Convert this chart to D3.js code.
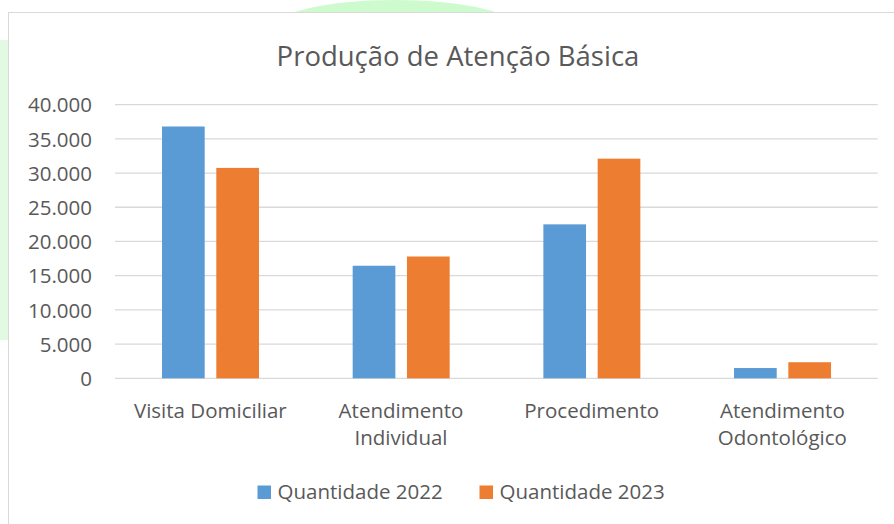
<!DOCTYPE html>
<html>
<head>
<meta charset="utf-8">
<script src="https://cdn.jsdelivr.net/npm/d3@7"></script>
<style>
  html, body { margin: 0; padding: 0; background: #fff; }
  svg { display: block; font-family: "Open Sans", sans-serif; }
</style>
</head>
<body>
<svg id="chart" width="894" height="524"></svg>
<script>
// data
const categories = ["Visita Domiciliar", "Atendimento Individual", "Procedimento", "Atendimento Odontológico"];
const seriesNames = ["Quantidade 2022", "Quantidade 2023"];
const values2022 = [36800, 16450, 22500, 1500];
const values2023 = [30750, 17800, 32100, 2350];
const yTicks = [0, 5000, 10000, 15000, 20000, 25000, 30000, 35000, 40000];
const colors = ["#5b9bd5", "#ed7d31"];

const svg = d3.select("#chart");
const textColor = "#595959";
const gridColor = "#d9d9d9";

// faint watermark bits showing around the chart frame
svg.append("rect").attr("x", 0).attr("y", 40).attr("width", 8).attr("height", 300)
  .attr("fill", "#d6f8d6").attr("opacity", 0.7);
svg.append("ellipse").attr("cx", 395).attr("cy", 30).attr("rx", 125).attr("ry", 30)
  .attr("fill", "#cdfbcd");

// chart frame
svg.append("rect").attr("x", 8.5).attr("y", 12.5).attr("width", 900).attr("height", 530)
  .attr("fill", "#fff").attr("stroke", gridColor).attr("stroke-width", 1);

const plot = {left: 115, right: 877.7, top: 104.6, bottom: 378.3};

const y = d3.scaleLinear().domain([0, 40000]).range([plot.bottom, plot.top]);
const x0 = d3.scaleBand().domain(categories).range([plot.left, plot.right]).padding(0);
const x1 = d3.scaleBand().domain(seriesNames).range([47, 144]).paddingInner(0.214).paddingOuter(0);

// title
svg.append("text")
  .attr("x", 458).attr("y", 66)
  .attr("text-anchor", "middle")
  .attr("font-size", 27.5)
  .attr("fill", textColor)
  .text("Produção de Atenção Básica");

// gridlines
svg.append("g").selectAll("line").data(yTicks).join("line")
  .attr("x1", plot.left).attr("x2", plot.right)
  .attr("y1", d => y(d)).attr("y2", d => y(d))
  .attr("stroke", gridColor).attr("stroke-width", 1.3);

// y axis labels
const fmt = d => d3.format(",")(d).replace(/,/g, ".");
const yAxis = svg.append("g")
  .attr("transform", `translate(${plot.left - 23},0)`)
  .call(d3.axisLeft(y).tickValues(yTicks).tickFormat(fmt).tickSize(0).tickPadding(0));
yAxis.select(".domain").remove();
yAxis.selectAll("text")
  .attr("font-family", "Open Sans, sans-serif")
  .attr("font-size", 20.5)
  .attr("fill", textColor)
  .attr("dy", "0.35em");

// bars
const rows = categories.map((c, i) => ({cat: c, vals: [values2022[i], values2023[i]]}));
const groups = svg.append("g").selectAll("g").data(rows).join("g")
  .attr("transform", d => `translate(${x0(d.cat)},0)`);
groups.selectAll("rect")
  .data(d => d.vals.map((v, j) => ({name: seriesNames[j], v, j})))
  .join("rect")
  .attr("x", d => x1(d.name))
  .attr("width", x1.bandwidth())
  .attr("y", d => y(d.v))
  .attr("height", d => y(0) - y(d.v))
  .attr("fill", d => colors[d.j]);

// category labels, wrapped to the band width
const catLabels = svg.append("g").selectAll("text").data(categories).join("text")
  .attr("x", d => x0(d) + x0.bandwidth() / 2)
  .attr("y", 418)
  .attr("text-anchor", "middle")
  .attr("font-size", 20.5)
  .attr("fill", textColor);

catLabels.each(function(d) {
  const t = d3.select(this);
  const words = d.split(" ");
  let line = [];
  let lineNo = 0;
  let tspan = t.append("tspan").attr("x", t.attr("x")).attr("dy", 0);
  words.forEach(w => {
    line.push(w);
    tspan.text(line.join(" "));
    if (tspan.node().getComputedTextLength() > x0.bandwidth() - 10 && line.length > 1) {
      line.pop();
      tspan.text(line.join(" "));
      line = [w];
      lineNo++;
      tspan = t.append("tspan").attr("x", t.attr("x")).attr("dy", 27).text(w);
    }
  });
});

// legend
const legendItems = [
  {name: seriesNames[0], color: colors[0], x: 257.5},
  {name: seriesNames[1], color: colors[1], x: 479.5}
];
const legend = svg.append("g").selectAll("g").data(legendItems).join("g")
  .attr("transform", d => `translate(${d.x},0)`);
legend.append("rect")
  .attr("x", 0).attr("y", 485.5).attr("width", 13.5).attr("height", 13.5)
  .attr("fill", d => d.color);
legend.append("text")
  .attr("x", 20).attr("y", 498.5)
  .attr("font-size", 20.5)
  .attr("fill", textColor)
  .text(d => d.name);
</script>
</body>
</html>
